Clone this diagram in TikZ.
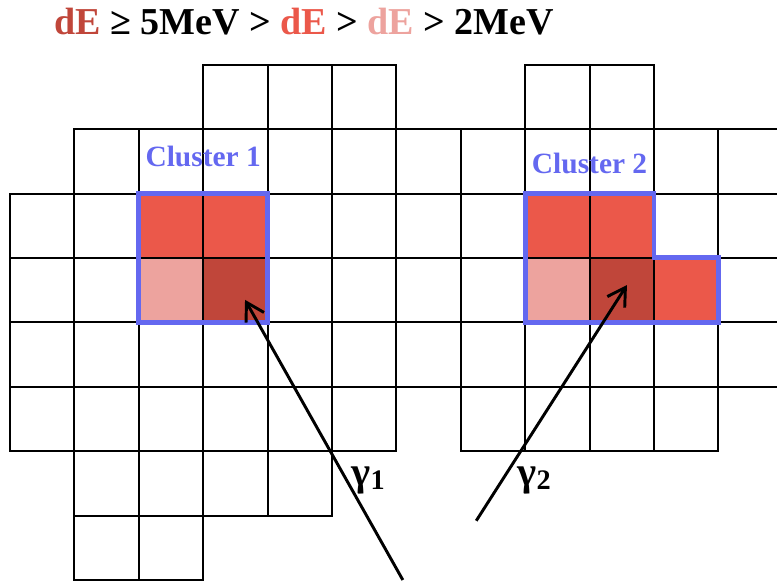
\documentclass[tikz,border=0pt]{standalone}
\usepackage{fontspec}
\setmainfont{Liberation Serif}
\usepackage{xcolor}
\usepackage{tikz}
\usetikzlibrary{arrows.meta,positioning}

\definecolor{dEdark}{RGB}{192,70,58}
\definecolor{dEred}{RGB}{235,88,74}
\definecolor{dEpink}{RGB}{237,163,158}
\definecolor{clublue}{RGB}{100,104,240}

\newcommand{\gsub}[1]{{\fontsize{12.5}{13}\selectfont\raisebox{-0.3ex}{#1}}}

\begin{document}
\begin{tikzpicture}[
    cell/.style={draw=black, line width=0.95pt},
    clu/.style={draw=clublue, line width=2.2pt, line join=miter},
    clulbl/.style={font=\bfseries\fontsize{13}{15}\selectfont, text=clublue},
    photon/.style={-{Straight Barb[length=2.7mm, width=3.2mm, line width=1.3pt]}, line width=1.3pt},
    glbl/.style={font=\bfseries\fontsize{18}{20}\selectfont, inner sep=0pt},
  ]
    \useasboundingbox (-0.155,-0.047) rectangle (11.91,9.006);
    \clip (-0.155,-0.047) rectangle (11.91,9.006);

    % Deposited energy per crystal
    \fill[dEred] (2,5) rectangle ++(2,1);
    \fill[dEpink] (2,4) rectangle ++(1,1);
    \fill[dEdark] (3,4) rectangle ++(1,1);
    \fill[dEred] (8,5) rectangle ++(2,1);
    \fill[dEpink] (8,4) rectangle ++(1,1);
    \fill[dEdark] (9,4) rectangle ++(1,1);
    \fill[dEred] (10,4) rectangle ++(1,1);

    % Calorimeter crystals
    \foreach \c in {3,4,5,8,9} \draw[cell] (\c,7) rectangle ++(1,1);
    \foreach \c in {1,...,11} \draw[cell] (\c,6) rectangle ++(1,1);
    \foreach \r in {3,4,5}
      \foreach \c in {0,...,11} \draw[cell] (\c,\r) rectangle ++(1,1);
    \foreach \c in {0,...,5,7,8,9,10} \draw[cell] (\c,2) rectangle ++(1,1);
    \foreach \c in {1,...,4} \draw[cell] (\c,1) rectangle ++(1,1);
    \foreach \c in {1,2} \draw[cell] (\c,0) rectangle ++(1,1);

    % Cluster outlines
    \draw[clu] (2,4) rectangle (4,6);
    \draw[clu] (8,6) -- (10,6) -- (10,5) -- (11,5) -- (11,4) -- (8,4) -- cycle;
    \node[clulbl] (c1) at (3.0,6.57) {Cluster 1};
    \node[clulbl] (c2) at (9.0,6.46) {Cluster 2};

    % Legend
    \node[font=\bfseries\fontsize{16.8}{19}\selectfont] (leg) at (4.565,8.67)
      {\textcolor{dEdark}{dE} ≥ 5MeV > \textcolor{dEred}{dE} > \textcolor{dEpink}{dE} > 2MeV};

    % Incoming photons
    \coordinate (g1in) at (6.10,0.0);
    \coordinate (g1hit) at (3.65,4.35);
    \coordinate (g2in) at (7.24,0.92);
    \coordinate (g2hit) at (9.58,4.58);
    \draw[photon] (g1in) -- (g1hit);
    \draw[photon] (g2in) -- (g2hit);
    \node[glbl] (g1) at (5.56,1.55) {γ\gsub{1}};
    \node[glbl] (g2) at (8.14,1.55) {γ\gsub{2}};

  \end{tikzpicture}
\end{document}
